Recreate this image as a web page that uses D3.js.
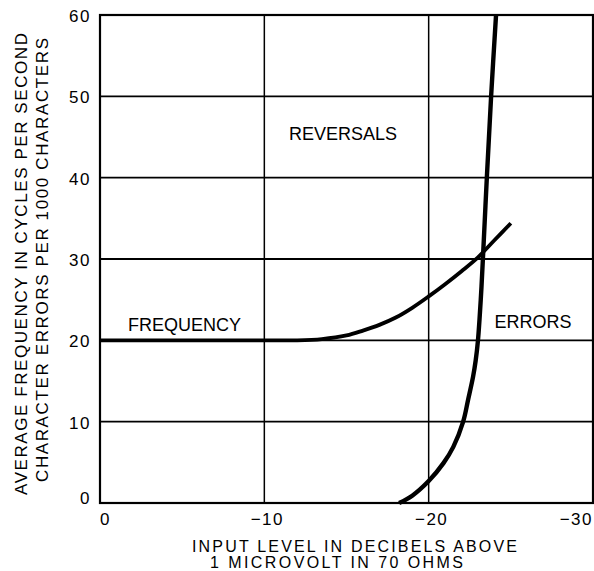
<!DOCTYPE html>
<html>
<head>
<meta charset="utf-8">
<script src="https://cdn.jsdelivr.net/npm/d3@7"></script>
<style>
  html, body { margin: 0; padding: 0; background: #fff; }
  svg text { font-family: "Liberation Sans", Arial, sans-serif; fill: #000; }
</style>
</head>
<body>
<svg id="chart" width="594" height="571"></svg>
<script>
// Input level (dB above 1 µV in 70 Ω) vs. average reversal frequency (c/s)
const frequencyLevel = [0, -5, -10, -12, -13.5, -15, -16, -17, -18, -19, -20, -21, -22, -23, -24, -25];
const frequencyValue = [20, 20, 20, 20, 20.15, 20.6, 21.2, 21.9, 22.8, 24, 25.4, 26.9, 28.5, 30.2, 32.3, 34.4];

// Input level vs. character errors per 1000 characters
const errorsLevel = [-18.2, -19, -20, -20.9, -21.5, -22.1, -22.4, -22.7, -22.86, -23.0, -23.17, -23.3, -23.54, -23.8, -24.1];
const errorsValue = [0, 0.9, 2.7, 4.9, 6.9, 10, 12.7, 15.5, 17.5, 20, 25, 30, 40, 50, 60];

const xTicks = [0, -10, -20, -30];
const xTickLabels = ["0", "\u221210", "\u221220", "\u221230"];
const yTicks = [0, 10, 20, 30, 40, 50, 60];
const yTickLabels = ["0", "10", "20", "30", "40", "50", "60"];

const curveLabels = [
  { text: "REVERSALS", level: -11.5, value: 44.6 },
  { text: "FREQUENCY", level: -1.7, value: 21.1 },
  { text: "ERRORS", level: -24, value: 21.5 }
];

const svg = d3.select("#chart");
const x = d3.scaleLinear().domain([0, -30]).range([100, 593]);
const y = d3.scaleLinear().domain([0, 60]).range([503, 15]);

// Grid
const grid = svg.append("g");
grid.selectAll("line.h").data(yTicks.slice(1, -1)).join("line")
  .attr("x1", x(0)).attr("x2", x(-30))
  .attr("y1", d => y(d)).attr("y2", d => y(d))
  .attr("stroke", "#000").attr("stroke-width", 1.8);
grid.selectAll("line.v").data(xTicks.slice(1, -1)).join("line")
  .attr("x1", d => x(d)).attr("x2", d => x(d))
  .attr("y1", y(0)).attr("y2", y(60))
  .attr("stroke", "#000").attr("stroke-width", 1.5);

// Frame
svg.append("rect")
  .attr("x", x(0)).attr("y", y(60))
  .attr("width", x(-30) - x(0)).attr("height", y(0) - y(60))
  .attr("fill", "none").attr("stroke", "#000").attr("stroke-width", 2.2);

// Curves
const smooth = d3.line().x(d => x(d[0])).y(d => y(d[1])).curve(d3.curveCatmullRom.alpha(0.5));
svg.append("path")
  .datum(frequencyLevel.map((l, i) => [l, frequencyValue[i]]))
  .attr("d", smooth)
  .attr("fill", "none").attr("stroke", "#000").attr("stroke-width", 3.8);

svg.append("path")
  .datum(errorsLevel.map((l, i) => [l, errorsValue[i]]))
  .attr("d", smooth)
  .attr("fill", "none").attr("stroke", "#000").attr("stroke-width", 4.4);

// Curve labels
svg.selectAll("text.curve").data(curveLabels).join("text")
  .attr("x", d => x(d.level)).attr("y", d => y(d.value))
  .attr("font-size", 18)
  .text(d => d.text);

// Y tick labels
svg.selectAll("text.ytick").data(yTicks).join("text")
  .attr("x", 91)
  .attr("y", (d, i) => y(d) + (i === 0 ? 1 : 7))
  .attr("text-anchor", "end")
  .attr("font-size", 17)
  .attr("letter-spacing", 1.5)
  .text((d, i) => yTickLabels[i]);

// X tick labels
svg.selectAll("text.xtick").data(xTicks).join("text")
  .attr("x", (d, i) => i === 0 ? x(d) : (i === xTicks.length - 1 ? x(d) : x(d) + 3))
  .attr("y", 525)
  .attr("text-anchor", (d, i) => i === 0 ? "start" : (i === xTicks.length - 1 ? "end" : "middle"))
  .attr("font-size", 17)
  .attr("letter-spacing", 1.5)
  .text((d, i) => xTickLabels[i]);

// Axis titles
svg.append("text")
  .attr("x", 192).attr("y", 552)
  .attr("font-size", 16)
  .attr("textLength", 325).attr("lengthAdjust", "spacing")
  .text("INPUT LEVEL IN DECIBELS ABOVE");
svg.append("text")
  .attr("x", 210).attr("y", 568)
  .attr("font-size", 16)
  .attr("textLength", 253).attr("lengthAdjust", "spacing")
  .text("1 MICROVOLT IN 70 OHMS");

svg.append("text")
  .attr("transform", "translate(27,495) rotate(-90)")
  .attr("font-size", 17)
  .attr("textLength", 462).attr("lengthAdjust", "spacing")
  .text("AVERAGE FREQUENCY IN CYCLES PER SECOND");
svg.append("text")
  .attr("transform", "translate(48,482) rotate(-90)")
  .attr("font-size", 17)
  .attr("textLength", 444).attr("lengthAdjust", "spacing")
  .text("CHARACTER ERRORS PER 1000 CHARACTERS");
</script>
</body>
</html>
